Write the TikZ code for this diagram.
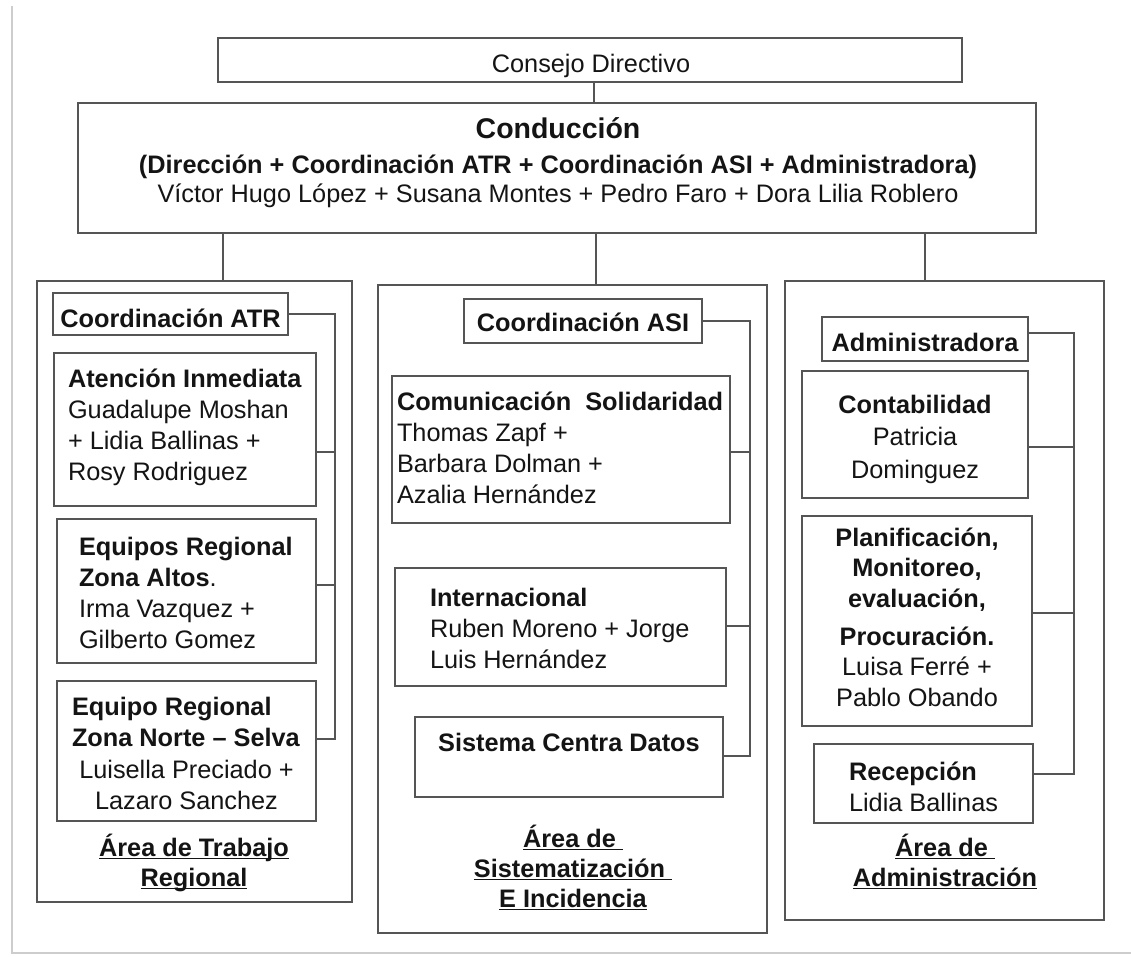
\documentclass[tikz,border=0pt]{standalone}
\usepackage{fontspec}
\setmainfont{Liberation Sans}
\usetikzlibrary{calc}
\definecolor{lncol}{RGB}{85,85,85}
\definecolor{txcol}{RGB}{20,20,20}
\definecolor{pgcol}{RGB}{205,205,205}
\newcommand\fsz{\fontsize{25.3}{31}\selectfont}
\newcommand\mkbox[5]{\node[box,anchor=north west,minimum width={(#4)-(#2)},minimum height={(#5)-(#3)}] (#1) at (#2,#3) {};}
\newsavebox\ulbox
\newcommand\myul[1]{\sbox\ulbox{#1}\rlap{\rule[-3pt]{\wd\ulbox}{1.3pt}}\usebox\ulbox}
\begin{document}
\begin{tikzpicture}[x=1pt,y=-1pt,
  box/.style={draw=lncol,line width=1.6pt,inner sep=0pt,outer sep=0pt,fill=white},
  conn/.style={draw=lncol,line width=1.3pt},
  txt/.style={inner sep=0pt,outer sep=0pt,text=txcol,font=\fsz},
  tl/.style={txt,align=left,anchor=north west},
  tc/.style={txt,align=center,anchor=north},
  tb/.style={txt,anchor=base},
  lbl/.style={txt,align=center,anchor=north,font=\fontsize{25.3}{30}\selectfont\bfseries},
]
\useasboundingbox[fill=white] (0,0) rectangle (1131,956);
\draw[pgcol,line width=1.2pt] (12,6) -- (12,953) -- (1131,953);

% top
\mkbox{consejo}{218}{38}{962}{82}
\mkbox{conduc}{78}{103}{1036}{233}
\node[tb] (consejoT) at (591,72) {Consejo Directivo};
\node[tb,font=\fontsize{28.5}{31}\selectfont\bfseries] (conducT1) at (558,138) {Conducción};
\node[tb,font=\fsz\bfseries] (conducT2) at (558,173) {(Dirección + Coordinación ATR + Coordinación ASI + Administradora)};
\node[tb] (conducT3) at (558,202) {Víctor Hugo López + Susana Montes + Pedro Faro + Dora Lilia Roblero};

% areas
\mkbox{areaL}{37}{281}{352}{902}
\mkbox{areaM}{378}{285}{767}{933}
\mkbox{areaR}{785}{281}{1104}{920}

\coordinate (cx0) at (594,0);
\coordinate (cxL) at (223,0);
\coordinate (cxM) at (596,0);
\coordinate (cxR) at (925,0);
\draw[conn] (consejo.south -| cx0) -- (conduc.north -| cx0);
\draw[conn] (conduc.south -| cxL) -- (areaL.north -| cxL);
\draw[conn] (conduc.south -| cxM) -- (areaM.north -| cxM);
\draw[conn] (conduc.south -| cxR) -- (areaR.north -| cxR);

% left area
\mkbox{catr}{53}{293}{288}{335}
\mkbox{atenc}{54}{353}{316}{506}
\mkbox{altos}{57}{519}{316}{663}
\mkbox{norte}{57}{681}{316}{821}
\node[tb,font=\fsz\bfseries] (catrT) at (170.5,327) {Coordinación ATR};
\node[tl] (atencT) at (68,365.3) {\strut\textbf{Atención Inmediata}\\\strut Guadalupe Moshan\\\strut + Lidia Ballinas +\\\strut Rosy Rodriguez};
\node[tl] (altosT) at (79,533.3) {\strut\textbf{Equipos Regional}\\\strut\textbf{Zona Altos}.\\\strut Irma Vazquez +\\\strut Gilberto Gomez};
\node[tl,font=\fsz\bfseries] (norteT) at (72,693.3) {\strut Equipo Regional\\\strut Zona Norte – Selva};
\node[tc] (norteN) at (186.5,756.3) {\strut Luisella Preciado +\\\strut Lazaro Sanchez};
\node[lbl] (lblL) at (194,834) {\strut\myul{Área de Trabajo}\\\strut\myul{Regional}};
\coordinate (busL) at (335,739);
\draw[conn] (catr.east) -| (busL) -- (norte.east |- busL);
\draw[conn] (atenc.east |- 0,452) -- (busL |- 0,452);
\draw[conn] (altos.east |- 0,585) -- (busL |- 0,585);

% middle area
\mkbox{casi}{464}{299}{702}{343}
\mkbox{comun}{392}{376}{730}{523}
\mkbox{intl}{395}{568}{726}{686}
\mkbox{sist}{415}{717}{723}{797}
\node[tb,font=\fsz\bfseries] (casiT) at (583,331) {Coordinación ASI};
\node[tl] (comunT) at (397,388.3) {\strut\textbf{Comunicación\ \ Solidaridad}\\\strut Thomas Zapf +\\\strut Barbara Dolman +\\\strut Azalia Hernández};
\node[tl] (intlT) at (430,584.8) {\strut\textbf{Internacional}\\\strut Ruben Moreno + Jorge\\\strut Luis Hernández};
\node[tb,font=\fsz\bfseries] (sistT) at (569,751) {Sistema Centra Datos};
\node[lbl] (lblM) at (573,825) {\strut\myul{Área de\ }\\\strut\myul{Sistematización\ }\\\strut\myul{E Incidencia}};
\coordinate (busM) at (750,756);
\draw[conn] (casi.east) -| (busM) -- (sist.east |- busM);
\draw[conn] (comun.east |- 0,452) -- (busM |- 0,452);
\draw[conn] (intl.east |- 0,626) -- (busM |- 0,626);

% right area
\mkbox{adm}{822}{317}{1028}{361}
\mkbox{conta}{802}{371}{1028}{498}
\mkbox{plan}{802}{516}{1032}{726}
\mkbox{recep}{814}{744}{1033}{823}
\node[tb,font=\fsz\bfseries] (admT) at (925,351) {Administradora};
\node[tc,font=\fontsize{25.3}{32.5}\selectfont] (contaT) at (915,390.25) {\strut\textbf{Contabilidad}\\\strut Patricia\\\strut Dominguez};
\node[tc,font=\fontsize{25.3}{30.5}\selectfont\bfseries] (planT1) at (917,524.65) {\strut Planificación,\\\strut Monitoreo,\\\strut evaluación,};
\node[tc,font=\fontsize{25.3}{30.5}\selectfont] (planT2) at (917,623.65) {\strut\textbf{Procuración.}\\\strut Luisa Ferré +\\\strut Pablo Obando};
\node[tl] (recepT) at (849,758.3) {\strut\textbf{Recepción}\\\strut Lidia Ballinas};
\node[lbl] (lblR) at (945,834) {\strut\myul{Área de\ }\\\strut\myul{Administración}};
\coordinate (busR) at (1074,774);
\draw[conn] (adm.east |- 0,333) -| (busR) -- (recep.east |- busR);
\draw[conn] (conta.east |- 0,447) -- (busR |- 0,447);
\draw[conn] (plan.east |- 0,613) -- (busR |- 0,613);
\end{tikzpicture}
\end{document}
